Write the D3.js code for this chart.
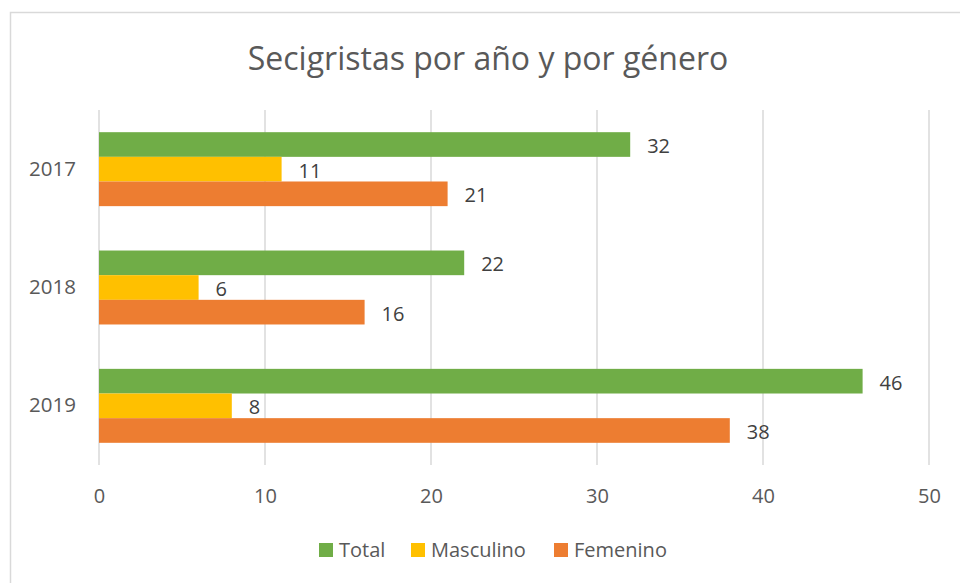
<!DOCTYPE html>
<html>
<head>
<meta charset="utf-8">
<script src="https://cdn.jsdelivr.net/npm/d3@7"></script>
<style>
  body { margin: 0; background: #fff; }
  svg text { font-family: "Open Sans", "DejaVu Sans", sans-serif; }
</style>
</head>
<body>
<svg id="chart" width="960" height="583"></svg>
<script>
// chart data
var years = ["2017", "2018", "2019"];
var seriesNames = ["Total", "Masculino", "Femenino"];
var seriesColors = ["#70AD47", "#FFC000", "#ED7D31"];
var total = [32, 22, 46];
var masculino = [11, 6, 8];
var femenino = [21, 16, 38];
var xTicks = [0, 10, 20, 30, 40, 50];

var values = [total, masculino, femenino];

var svg = d3.select("#chart");

// outer frame (runs off the right and bottom edge)
svg.append("rect")
	.attr("x", 10.5).attr("y", 12.5)
	.attr("width", 980).attr("height", 600)
	.attr("fill", "#fff")
	.attr("stroke", "#d9d9d9")
	.attr("stroke-width", 1.5);

svg.append("text")
	.attr("x", 488).attr("y", 70)
	.attr("text-anchor", "middle")
	.attr("font-size", 32)
	.attr("fill", "#595959")
	.text("Secigristas por año y por género");

var plotLeft = 99, plotRight = 929, plotTop = 110, plotBottom = 465;

var x = d3.scaleLinear().domain([0, 50]).range([plotLeft, plotRight]);

var y0 = d3.scaleBand().domain(years).range([plotTop, plotBottom]);

var y1 = d3.scaleBand().domain(seriesNames)
	.range([y0.step() * 0.1875, y0.step() * 0.8125]);

// gridlines
svg.append("g")
	.selectAll("line")
	.data(xTicks)
	.enter().append("line")
	.attr("x1", function(d) { return x(d); })
	.attr("x2", function(d) { return x(d); })
	.attr("y1", plotTop).attr("y2", plotBottom)
	.attr("stroke", "#d9d9d9")
	.attr("stroke-width", 1.5);

// x tick labels
var xAxis = svg.append("g")
	.attr("transform", "translate(0," + plotBottom + ")")
	.call(d3.axisBottom(x).tickValues(xTicks).tickSize(0).tickPadding(24));
xAxis.select(".domain").remove();
xAxis.selectAll("text")
	.attr("font-size", 20)
	.attr("fill", "#595959")
	.style("font-family", "'Open Sans', sans-serif");

// year labels
var yAxis = svg.append("g")
	.attr("transform", "translate(" + plotLeft + ",0)")
	.call(d3.axisLeft(y0).tickSize(0).tickPadding(23));
yAxis.select(".domain").remove();
yAxis.selectAll("text")
	.attr("font-size", 20.5)
	.attr("fill", "#595959")
	.style("font-family", "'Open Sans', sans-serif");

// bars
var groups = svg.append("g")
	.selectAll("g")
	.data(years)
	.enter().append("g")
	.attr("transform", function(d) { return "translate(0," + y0(d) + ")"; });

var cells = groups.selectAll("g")
	.data(function(d, i)
	{
		return seriesNames.map(function(s, j)
		{
			return { series: s, color: seriesColors[j], value: values[j][i] };
		});
	})
	.enter().append("g");

cells.append("rect")
	.attr("x", x(0))
	.attr("y", function(d) { return y1(d.series); })
	.attr("width", function(d) { return x(d.value) - x(0); })
	.attr("height", y1.bandwidth())
	.attr("fill", function(d) { return d.color; });

cells.append("text")
	.attr("x", function(d) { return x(d.value) + 17; })
	.attr("y", function(d) { return y1(d.series) + y1.bandwidth() / 2 + 1.5; })
	.attr("dy", "0.35em")
	.attr("font-size", 20)
	.attr("fill", "#404040")
	.text(function(d) { return d.value; });

// legend
var legendX = [319, 411, 554];
var legend = svg.append("g")
	.selectAll("g")
	.data(seriesNames)
	.enter().append("g")
	.attr("transform", function(d, i) { return "translate(" + legendX[i] + ",550)"; });

legend.append("rect")
	.attr("x", 0).attr("y", -7)
	.attr("width", 14).attr("height", 14)
	.attr("fill", function(d, i) { return seriesColors[i]; });

legend.append("text")
	.attr("x", 20).attr("dy", "0.35em")
	.attr("font-size", 20)
	.attr("fill", "#595959")
	.text(function(d) { return d; });
</script>
</body>
</html>
